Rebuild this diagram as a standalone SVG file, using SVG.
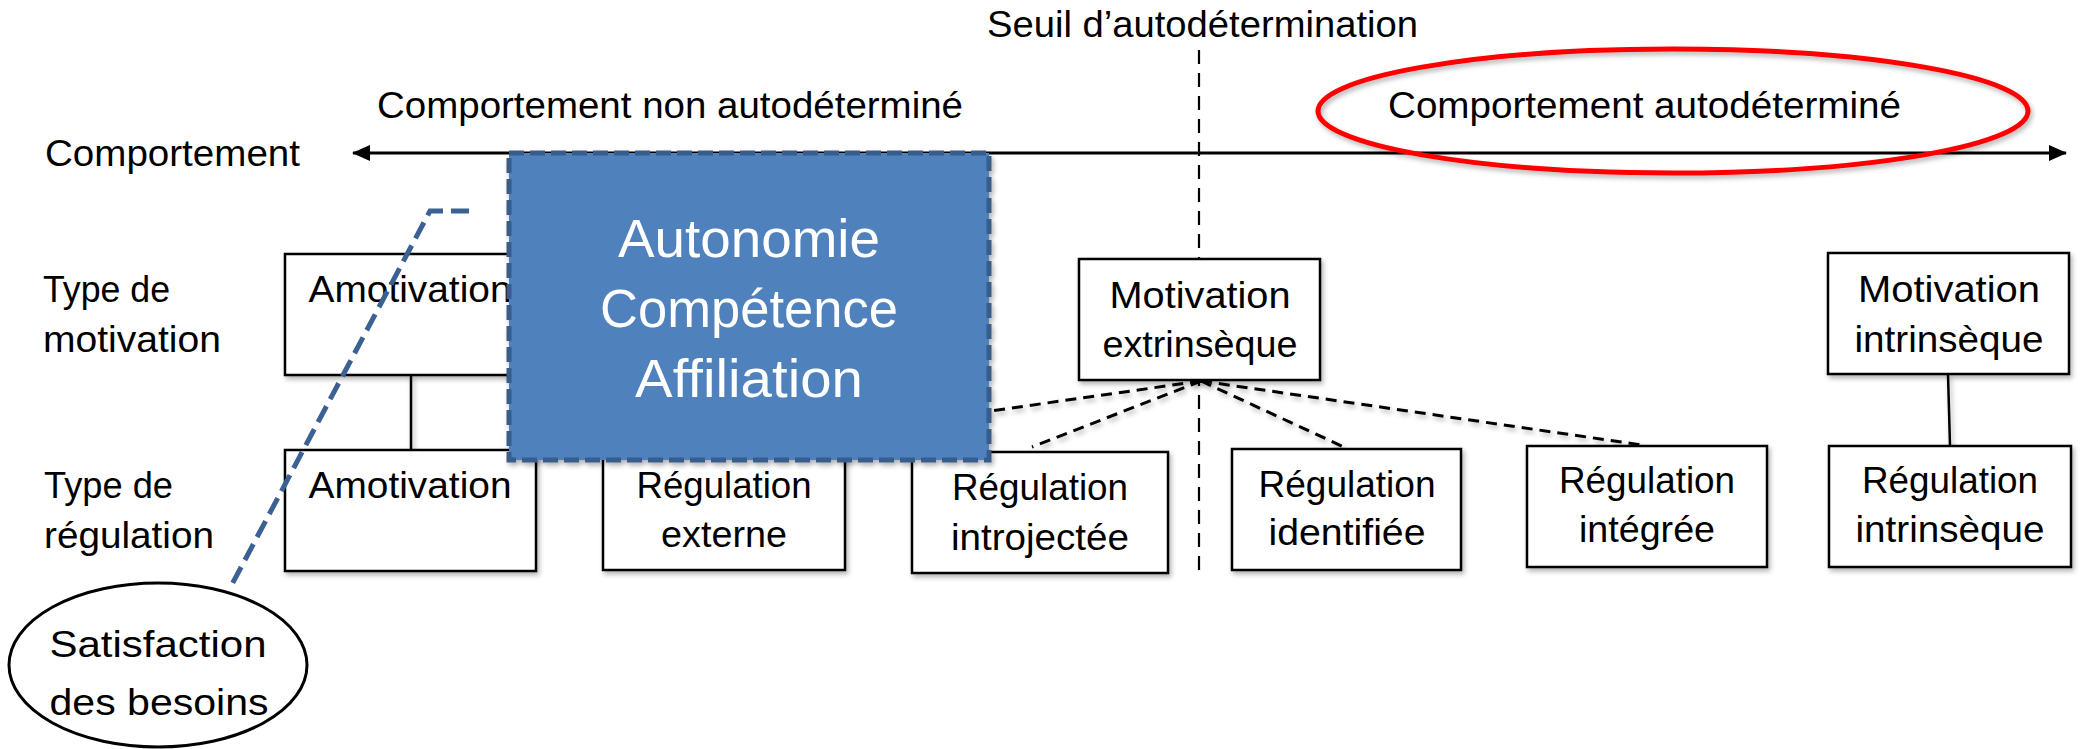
<svg xmlns="http://www.w3.org/2000/svg" width="2082" height="749" viewBox="0 0 2082 749">
<style>
text{font-family:"Liberation Sans",Arial,sans-serif;font-size:37px;fill:#000}
.c{text-anchor:middle}
.box{fill:#fff;stroke:#000;stroke-width:2.5}
.dash{fill:none;stroke:#000;stroke-width:3;stroke-dasharray:11 7}
.solid{fill:none;stroke:#000;stroke-width:2.5}
.w{fill:#fff;font-size:53px}
</style>
<defs>
<filter id="sh" x="-10%" y="-10%" width="130%" height="130%">
<feDropShadow dx="2" dy="3" stdDeviation="2.5" flood-color="#000" flood-opacity="0.3"/>
</filter>
<marker id="ah" markerUnits="userSpaceOnUse" markerWidth="20" markerHeight="16" refX="17" refY="8" orient="auto-start-reverse">
<path d="M0,0 L18,8 L0,16 z" fill="#000"/>
</marker>
</defs>

<g id="labels">
<text x="45" y="166" textLength="255" lengthAdjust="spacingAndGlyphs">Comportement</text>
<text x="377" y="118" textLength="586" lengthAdjust="spacingAndGlyphs">Comportement non autodéterminé</text>
<text x="987" y="37" textLength="431" lengthAdjust="spacingAndGlyphs">Seuil d’autodétermination</text>
<text x="43" y="302" textLength="127" lengthAdjust="spacingAndGlyphs">Type de</text>
<text x="43" y="352" textLength="178" lengthAdjust="spacingAndGlyphs">motivation</text>
<text x="44" y="498" textLength="129" lengthAdjust="spacingAndGlyphs">Type de</text>
<text x="44" y="548" textLength="170" lengthAdjust="spacingAndGlyphs">régulation</text>
</g>

<g id="connectors">
<line x1="353" y1="153" x2="2066" y2="153" stroke="#000" stroke-width="3" marker-start="url(#ah)" marker-end="url(#ah)"/>
<line x1="1199" y1="50" x2="1199" y2="572" stroke="#000" stroke-width="2.2" stroke-dasharray="14 9"/>
<g filter="url(#sh)">
<line class="dash" x1="1201" y1="381" x2="724" y2="449"/>
<line class="dash" x1="1201" y1="381" x2="1032" y2="447"/>
<line class="dash" x1="1201" y1="381" x2="1346" y2="448"/>
<line class="dash" x1="1201" y1="381" x2="1642" y2="445"/>
<line class="solid" x1="411" y1="375" x2="411" y2="450"/>
<line class="solid" x1="1948" y1="374" x2="1950" y2="446"/>
</g>
</g>

<g id="comportement-autodetermine">
<ellipse cx="1673" cy="111" rx="355" ry="62" fill="none" stroke="#ff0000" stroke-width="5" filter="url(#sh)"/>
<text x="1388" y="118" textLength="513" lengthAdjust="spacingAndGlyphs">Comportement autodéterminé</text>
</g>

<g id="amotivation-motivation">
<rect class="box" x="285" y="254" width="251" height="121" filter="url(#sh)"/>
<text class="c" x="410" y="302" textLength="203" lengthAdjust="spacingAndGlyphs">Amotivation</text>
</g>
<g id="motivation-extrinseque">
<rect class="box" x="1079" y="259" width="241" height="121" filter="url(#sh)"/>
<text class="c" x="1200" y="308" textLength="181" lengthAdjust="spacingAndGlyphs">Motivation</text>
<text class="c" x="1200" y="357" textLength="195" lengthAdjust="spacingAndGlyphs">extrinsèque</text>
</g>
<g id="motivation-intrinseque">
<rect class="box" x="1828" y="253" width="241" height="121" filter="url(#sh)"/>
<text class="c" x="1949" y="302" textLength="182" lengthAdjust="spacingAndGlyphs">Motivation</text>
<text class="c" x="1949" y="352" textLength="189" lengthAdjust="spacingAndGlyphs">intrinsèque</text>
</g>
<g id="amotivation-regulation">
<rect class="box" x="285" y="450" width="251" height="121" filter="url(#sh)"/>
<text class="c" x="410" y="498" textLength="203" lengthAdjust="spacingAndGlyphs">Amotivation</text>
</g>
<g id="regulation-externe">
<rect class="box" x="603" y="449" width="242" height="121" filter="url(#sh)"/>
<text class="c" x="724" y="498" textLength="175" lengthAdjust="spacingAndGlyphs">Régulation</text>
<text class="c" x="724" y="547" textLength="126" lengthAdjust="spacingAndGlyphs">externe</text>
</g>
<g id="regulation-introjectee">
<rect class="box" x="912" y="452" width="256" height="121" filter="url(#sh)"/>
<text class="c" x="1040" y="500" textLength="176" lengthAdjust="spacingAndGlyphs">Régulation</text>
<text class="c" x="1040" y="550" textLength="178" lengthAdjust="spacingAndGlyphs">introjectée</text>
</g>
<g id="regulation-identifiee">
<rect class="box" x="1232" y="449" width="229" height="121" filter="url(#sh)"/>
<text class="c" x="1347" y="497" textLength="177" lengthAdjust="spacingAndGlyphs">Régulation</text>
<text class="c" x="1347" y="545" textLength="157" lengthAdjust="spacingAndGlyphs">identifiée</text>
</g>
<g id="regulation-integree">
<rect class="box" x="1527" y="446" width="240" height="121" filter="url(#sh)"/>
<text class="c" x="1647" y="493" textLength="176" lengthAdjust="spacingAndGlyphs">Régulation</text>
<text class="c" x="1647" y="542" textLength="136" lengthAdjust="spacingAndGlyphs">intégrée</text>
</g>
<g id="regulation-intrinseque">
<rect class="box" x="1829" y="446" width="242" height="121" filter="url(#sh)"/>
<text class="c" x="1950" y="493" textLength="176" lengthAdjust="spacingAndGlyphs">Régulation</text>
<text class="c" x="1950" y="542" textLength="189" lengthAdjust="spacingAndGlyphs">intrinsèque</text>
</g>

<g id="besoins">
<rect x="509" y="153" width="480" height="307" fill="#4f81bd" stroke="#385d8a" stroke-width="5" stroke-dasharray="15 6" filter="url(#sh)"/>
<text class="c w" x="749" y="257" textLength="262" lengthAdjust="spacingAndGlyphs">Autonomie</text>
<text class="c w" x="749" y="327" textLength="298" lengthAdjust="spacingAndGlyphs">Compétence</text>
<text class="c w" x="749" y="397" textLength="228" lengthAdjust="spacingAndGlyphs">Affiliation</text>
</g>

<g id="lien-besoins">
<polyline points="469,211 430,211 229,590" fill="none" stroke="#3b6194" stroke-width="5" stroke-dasharray="18 8"/>
</g>

<g id="satisfaction">
<ellipse cx="158" cy="665" rx="149" ry="82" fill="none" stroke="#000" stroke-width="3"/>
<text class="c" x="158" y="657" textLength="217" lengthAdjust="spacingAndGlyphs">Satisfaction</text>
<text class="c" x="159" y="715" textLength="219" lengthAdjust="spacingAndGlyphs">des besoins</text>
</g>
</svg>
